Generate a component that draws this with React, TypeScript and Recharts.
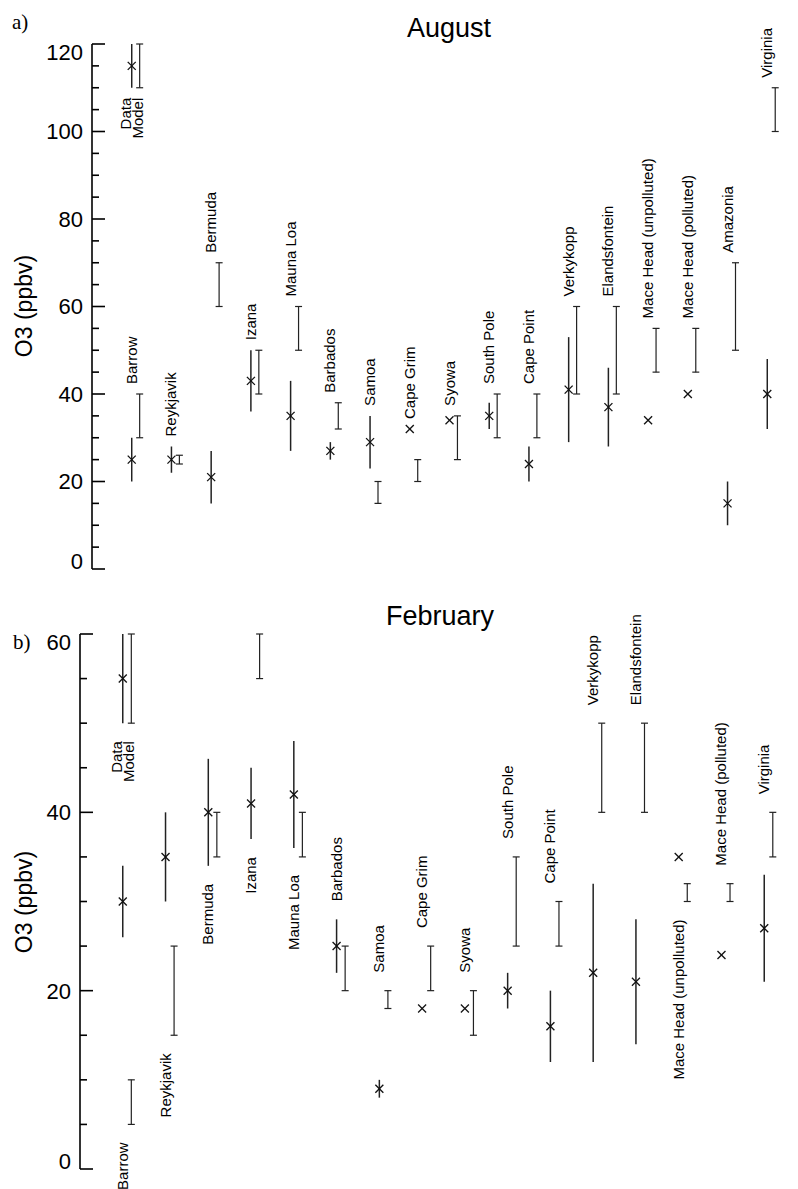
import React from "react";
import { ScatterChart, Scatter, XAxis, YAxis, ErrorBar } from "recharts";

// August (panel a)
const AUG_STATIONS = [
  "Barrow", "Reykjavik", "Bermuda", "Izana", "Mauna Loa", "Barbados", "Samoa", "Cape Grim", "Syowa",
  "South Pole", "Cape Point", "Verkykopp", "Elandsfontein", "Mace Head (unpolluted)", "Mace Head (polluted)",
  "Amazonia", "Virginia",
];
const AUG_DATA = [25, 25, 21, 43, 35, 27, 29, 32, 34, 35, 24, 41, 37, 34, 40, 15, 40];
const AUG_DATA_LO = [20, 22, 15, 36, 27, 25, 23, 32, 34, 32, 20, 29, 28, 34, 40, 10, 32];
const AUG_DATA_HI = [30, 28, 27, 50, 43, 29, 35, 32, 34, 38, 28, 53, 46, 34, 40, 20, 48];
const AUG_MODEL_LO = [30, 24, 60, 40, 50, 32, 15, 20, 25, 30, 30, 40, 40, 45, 45, 50, 100];
const AUG_MODEL_HI = [40, 26, 70, 50, 60, 38, 20, 25, 35, 40, 40, 60, 60, 55, 55, 70, 110];
const AUG_LEGEND = { data: 115, lo: 110, hi: 120, mlo: 110, mhi: 120 };
const AUG_TICKS = [0, 5, 10, 15, 20, 25, 30, 35, 40, 45, 50, 55, 60, 65, 70, 75, 80, 85, 90, 95, 100, 105, 110, 115, 120];
const AUG_MAJOR = [0, 20, 40, 60, 80, 100, 120];

// February (panel b)
const FEB_STATIONS = [
  "Barrow", "Reykjavik", "Bermuda", "Izana", "Mauna Loa", "Barbados", "Samoa", "Cape Grim", "Syowa",
  "South Pole", "Cape Point", "Verkykopp", "Elandsfontein", "Mace Head (unpolluted)", "Mace Head (polluted)",
  "Virginia",
];
const FEB_DATA = [30, 35, 40, 41, 42, 25, 9, 18, 18, 20, 16, 22, 21, 35, 24, 27];
const FEB_DATA_LO = [26, 30, 34, 37, 36, 22, 8, 18, 18, 18, 12, 12, 14, 35, 24, 21];
const FEB_DATA_HI = [34, 40, 46, 45, 48, 28, 10, 18, 18, 22, 20, 32, 28, 35, 24, 33];
const FEB_MODEL_LO = [5, 15, 35, 55, 35, 20, 18, 20, 15, 25, 25, 40, 40, 30, 30, 35];
const FEB_MODEL_HI = [10, 25, 40, 60, 40, 25, 20, 25, 20, 35, 30, 50, 50, 32, 32, 40];
const FEB_LEGEND = { data: 55, lo: 50, hi: 60, mlo: 50, mhi: 60 };
const FEB_TICKS = [0, 5, 10, 15, 20, 25, 30, 35, 40, 45, 50, 55, 60];
const FEB_MAJOR = [0, 20, 40, 60];
// stations whose name sits under the bars in panel b
const FEB_LABEL_BELOW = ["Barrow", "Reykjavik", "Bermuda", "Izana", "Mauna Loa", "Mace Head (unpolluted)"];

const SANS = "'Liberation Sans', Arial, Helvetica, sans-serif";
const SERIF = "'Liberation Serif', 'Times New Roman', serif";
const PLOT_RIGHT = 807;

const Cross = (props: any) => {
  const { cx, cy } = props;
  const s = 4;
  return (
    <g stroke="#111" strokeWidth={1.3}>
      <line x1={cx - s} y1={cy - s} x2={cx + s} y2={cy + s} />
      <line x1={cx - s} y1={cy + s} x2={cx + s} y2={cy - s} />
    </g>
  );
};

const Nothing = () => <g />;

const leftTick = (major: number[], yMax: number) => (props: any) => {
  const { x, y, payload } = props;
  const v = payload.value;
  const isMajor = major.includes(v);
  const dy = v === yMax ? "0.72em" : v === 0 ? "0" : "0.36em";
  return (
    <g>
      <line x1={x} x2={x + (isMajor ? 13 : 7)} y1={y} y2={y} stroke="#000" strokeWidth={1.6} />
      {isMajor && (
        <text x={x - 9} y={y} dy={dy} textAnchor="end" fontSize={22} fontFamily={SANS} fill="#000">
          {v}
        </text>
      )}
    </g>
  );
};

const rightTick = (major: number[]) => (props: any) => {
  const { x, y, payload } = props;
  if (!major.includes(payload.value)) return <g />;
  return <line x1={x - 16} x2={x} y1={y} y2={y} stroke="#000" strokeWidth={1.6} />;
};

const stationLabel = (gap: number) => (props: any) => {
  const { cx, cy, payload } = props;
  const below = payload.below;
  return (
    <text
      transform={`translate(${cx + 5},${below ? cy + gap : cy - gap}) rotate(-90)`}
      textAnchor={below ? "end" : "start"}
      fontSize={15}
      fontFamily={SANS}
      fill="#000"
    >
      {payload.name}
    </text>
  );
};

const legendLabel = (gap: number) => (props: any) => {
  const { cx, cy } = props;
  return (
    <g fontSize={15} fontFamily={SANS} fill="#000">
      <text transform={`translate(${cx - 1},${cy + gap}) rotate(-90)`} textAnchor="end">Data</text>
      <text transform={`translate(${cx + 11},${cy + gap}) rotate(-90)`} textAnchor="end">Model</text>
    </g>
  );
};

type Legend = { data: number; lo: number; hi: number; mlo: number; mhi: number };

function Panel(p: {
  stations: string[];
  data: number[];
  lo: number[];
  hi: number[];
  mlo: number[];
  mhi: number[];
  legend: Legend;
  below: string[];
  ticks: number[];
  major: number[];
  yMax: number;
  top: number;
  axisX: number;
  height: number;
  marginBottom: number;
  gap: number;
}) {
  const n = p.stations.length;
  const width = PLOT_RIGHT + 20;
  const lg = p.legend;

  const dataPts = p.stations.map((_, i) => ({
    x: i + 1,
    y: p.data[i],
    err: [p.data[i] - p.lo[i], p.hi[i] - p.data[i]],
  }));
  dataPts.push({ x: 1, y: lg.data, err: [lg.data - lg.lo, lg.hi - lg.data] });

  const modelPts = p.stations.map((_, i) => ({
    x: i + 1.2,
    y: (p.mlo[i] + p.mhi[i]) / 2,
    err: (p.mhi[i] - p.mlo[i]) / 2,
  }));
  modelPts.push({ x: 1.2, y: (lg.mlo + lg.mhi) / 2, err: (lg.mhi - lg.mlo) / 2 });

  const labelPts = p.stations.map((s, i) => {
    const below = p.below.includes(s);
    return {
      x: i + 1,
      y: below ? Math.min(p.lo[i], p.mlo[i]) : Math.max(p.hi[i], p.mhi[i]),
      name: s,
      below,
    };
  });
  const legendPts = [{ x: 1, y: Math.min(lg.lo, lg.mlo) }];

  return (
    <div style={{ position: "absolute", left: 0, top: p.top }}>
      <ScatterChart
        width={width}
        height={p.height}
        margin={{ top: 44, right: 0, left: 0, bottom: p.marginBottom }}
        style={{ overflow: "visible" }}
      >
        <XAxis type="number" dataKey="x" domain={[0, n + 1]} hide />
        <YAxis
          yAxisId="left"
          type="number"
          dataKey="y"
          domain={[0, p.yMax]}
          ticks={p.ticks}
          interval={0}
          width={p.axisX}
          tickSize={0}
          tickMargin={0}
          tickLine={false}
          axisLine={{ stroke: "#000", strokeWidth: 1.6 }}
          tick={leftTick(p.major, p.yMax)}
        />
        <YAxis
          yAxisId="right"
          orientation="right"
          type="number"
          domain={[0, p.yMax]}
          ticks={p.ticks}
          interval={0}
          width={20}
          tickSize={0}
          tickMargin={0}
          tickLine={false}
          axisLine={false}
          tick={rightTick(p.major)}
        />
        <Scatter yAxisId="left" data={modelPts} shape={Nothing} isAnimationActive={false}>
          <ErrorBar dataKey="err" direction="y" width={3.5} stroke="#222" strokeWidth={1.2} isAnimationActive={false} />
        </Scatter>
        <Scatter yAxisId="left" data={dataPts} shape={Cross} isAnimationActive={false}>
          <ErrorBar dataKey="err" direction="y" width={0} stroke="#222" strokeWidth={1.5} isAnimationActive={false} />
        </Scatter>
        <Scatter yAxisId="left" data={labelPts} shape={stationLabel(p.gap)} isAnimationActive={false} />
        <Scatter yAxisId="left" data={legendPts} shape={legendLabel(p.gap)} isAnimationActive={false} />
      </ScatterChart>
    </div>
  );
}

export default function App() {
  return (
    <div
      style={{
        position: "fixed",
        left: 0,
        top: 0,
        width: 798,
        height: 1189,
        overflow: "hidden",
        background: "#fff",
      }}
    >
      <Panel
        stations={AUG_STATIONS}
        data={AUG_DATA}
        lo={AUG_DATA_LO}
        hi={AUG_DATA_HI}
        mlo={AUG_MODEL_LO}
        mhi={AUG_MODEL_HI}
        legend={AUG_LEGEND}
        below={[]}
        ticks={AUG_TICKS}
        major={AUG_MAJOR}
        yMax={120}
        top={0}
        axisX={92}
        height={590}
        marginBottom={21}
        gap={10}
      />
      <Panel
        stations={FEB_STATIONS}
        data={FEB_DATA}
        lo={FEB_DATA_LO}
        hi={FEB_DATA_HI}
        mlo={FEB_MODEL_LO}
        mhi={FEB_MODEL_HI}
        legend={FEB_LEGEND}
        below={FEB_LABEL_BELOW}
        ticks={FEB_TICKS}
        major={FEB_MAJOR}
        yMax={60}
        top={590}
        axisX={80}
        height={599}
        marginBottom={20}
        gap={18}
      />
      <svg
        width={798}
        height={1189}
        style={{ position: "absolute", left: 0, top: 0, pointerEvents: "none" }}
      >
        <text x={12} y={29} fontSize={21} fontFamily={SERIF} fill="#000">a)</text>
        <text x={449} y={37} textAnchor="middle" fontSize={27} fontFamily={SANS} fill="#000">August</text>
        <text transform="translate(32,306) rotate(-90)" textAnchor="middle" fontSize={23} fontFamily={SANS} fill="#000">
          O3 (ppbv)
        </text>
        <text x={13} y={649} fontSize={21} fontFamily={SERIF} fill="#000">b)</text>
        <text x={440} y={625} textAnchor="middle" fontSize={27} fontFamily={SANS} fill="#000">February</text>
        <text transform="translate(32,902) rotate(-90)" textAnchor="middle" fontSize={23} fontFamily={SANS} fill="#000">
          O3 (ppbv)
        </text>
      </svg>
    </div>
  );
}
